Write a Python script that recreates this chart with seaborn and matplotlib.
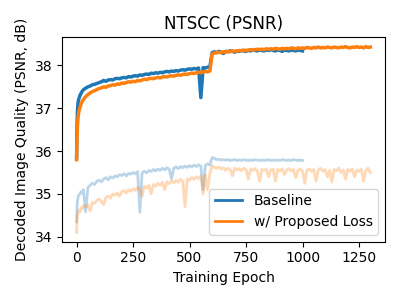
import matplotlib
matplotlib.use("Agg")
import matplotlib.pyplot as plt
import seaborn as sns

early_epochs = [0, 2, 4, 6, 8, 10, 15, 20, 25, 30, 40]
baseline_epochs = early_epochs + list(range(50, 1001, 10))
proposed_epochs = early_epochs + list(range(50, 1301, 10))

baseline_train = [
    35.85, 36.6, 36.95, 37.1, 37.18, 37.22, 37.3, 37.35, 37.4, 37.43, 37.47,
    37.5, 37.52, 37.55, 37.56, 37.58, 37.6, 37.62, 37.65, 37.63, 37.66,
    37.67, 37.66, 37.69, 37.7, 37.69, 37.71, 37.72, 37.71, 37.74, 37.73,
    37.75, 37.76, 37.75, 37.78, 37.77, 37.79, 37.8, 37.79, 37.82, 37.81,
    37.83, 37.82, 37.84, 37.83, 37.85, 37.86, 37.85, 37.87, 37.86, 37.88,
    37.87, 37.89, 37.9, 37.89, 37.91, 37.92, 37.91, 37.93, 37.92, 37.94,
    37.25, 37.95, 37.94, 37.96, 37.97,
    38.3, 38.32, 38.3, 38.33, 38.31, 38.28, 38.33, 38.32, 38.34, 38.33,
    38.31, 38.34, 38.33, 38.35, 38.34, 38.33, 38.35, 38.34, 38.36, 38.35,
    38.34, 38.36, 38.35, 38.34, 38.36, 38.35, 38.37, 38.35, 38.34, 38.36,
    38.35, 38.33, 38.36, 38.35, 38.34, 38.36, 38.35, 38.34, 38.36, 38.35,
    38.34,
]

proposed_train = [
    35.8, 36.3, 36.6, 36.75, 36.85, 36.92, 37.02, 37.1, 37.16, 37.2, 37.27,
    37.32, 37.36, 37.39, 37.41, 37.44, 37.46, 37.48, 37.5, 37.49, 37.52,
    37.53, 37.55, 37.54, 37.57, 37.56, 37.59, 37.58, 37.6, 37.62, 37.61,
    37.63, 37.62, 37.65, 37.64, 37.66, 37.68, 37.67, 37.69, 37.7, 37.69,
    37.71, 37.72, 37.71, 37.73, 37.74, 37.73, 37.75, 37.76, 37.75, 37.77,
    37.78, 37.77, 37.79, 37.8, 37.79, 37.81, 37.82, 37.81, 37.83, 37.84,
    37.83, 37.85, 37.86, 37.85, 37.87,
    38.27, 38.29, 38.3, 38.31, 38.3, 38.32, 38.31, 38.33, 38.32, 38.34,
    38.33, 38.34, 38.35, 38.34, 38.36, 38.35, 38.36, 38.37, 38.36, 38.37,
    38.38, 38.37, 38.38, 38.37, 38.39, 38.38, 38.39, 38.38, 38.4, 38.39,
    38.38, 38.4, 38.39, 38.4, 38.39, 38.41, 38.4, 38.39, 38.41, 38.4,
    38.41, 38.4, 38.42, 38.41, 38.4, 38.42, 38.41, 38.43, 38.41, 38.42,
    38.41, 38.43, 38.42, 38.41, 38.43, 38.42, 38.41, 38.43, 38.42, 38.44,
    38.42, 38.41, 38.43, 38.42, 38.44, 38.42, 38.43, 38.41, 38.44, 38.42,
    38.43,
]

baseline_val = [
    34.35, 34.7, 34.85, 34.9, 34.95, 34.98, 35.0, 35.05, 35.02, 35.1, 34.58,
    35.15, 35.2, 35.25, 35.22, 35.3, 35.32, 35.28, 35.35, 35.38, 35.33,
    35.4, 35.37, 35.42, 35.4, 35.45, 35.43, 35.47, 35.42, 35.48, 35.46,
    35.5, 35.47, 35.52, 34.57, 35.5, 35.53, 35.49, 35.55, 35.52, 35.57,
    35.54, 35.58, 35.55, 35.6, 35.56, 35.61, 35.58, 35.35, 35.6, 35.63,
    35.59, 35.64, 35.61, 35.65, 35.62, 35.66, 35.63, 35.67, 35.64, 35.68,
    35.65, 35.1, 35.67, 35.7, 35.68,
    35.85, 35.83, 35.8, 35.81, 35.79, 35.8, 35.79, 35.8, 35.78, 35.79,
    35.8, 35.78, 35.79, 35.78, 35.8, 35.79, 35.78, 35.79, 35.78, 35.8,
    35.79, 35.78, 35.79, 35.78, 35.79, 35.8, 35.78, 35.79, 35.78, 35.79,
    35.78, 35.8, 35.79, 35.78, 35.79, 35.78, 35.8, 35.79, 35.78, 35.79,
    35.78,
]

proposed_val = [
    34.1, 34.35, 34.5, 34.55, 34.6, 34.62, 34.58, 34.68, 34.65, 34.72, 34.7,
    34.75, 34.6, 34.8, 34.78, 34.85, 34.88, 34.82, 34.75, 34.92, 34.95,
    34.9, 35.0, 34.97, 35.02, 34.95, 35.05, 35.08, 35.02, 35.1, 35.06,
    35.12, 35.08, 35.15, 35.1, 34.95, 35.18, 35.14, 35.2, 35.0, 35.22,
    35.18, 35.25, 35.2, 35.27, 35.1, 35.28, 35.24, 35.3, 35.26, 35.32,
    35.27, 35.34, 35.3, 34.7, 35.35, 35.32, 35.38, 35.34, 35.4, 35.36,
    35.42, 35.0, 35.44, 35.1, 35.48,
    35.66, 35.62, 35.6, 35.63, 35.58, 35.61, 35.55, 35.6, 35.57, 35.42,
    35.6, 35.56, 35.59, 35.54, 35.6, 35.57, 35.35, 35.58, 35.55, 35.59,
    35.53, 35.3, 35.57, 35.55, 35.58, 35.4, 35.56, 35.58, 35.3, 35.57,
    35.54, 35.58, 35.45, 35.56, 35.59, 35.53, 35.57, 35.38, 35.55, 35.58,
    35.54, 35.25, 35.56, 35.58, 35.52, 35.57, 35.3, 35.56, 35.6, 35.53,
    35.57, 35.4, 35.55, 35.28, 35.57, 35.54, 35.6, 35.5, 35.56, 35.35,
    35.57, 35.53, 35.58, 35.4, 35.56, 35.52, 35.58, 35.3, 35.55, 35.6,
    35.5,
]

assert len(baseline_train) == len(baseline_epochs), len(baseline_train)
assert len(baseline_val) == len(baseline_epochs), len(baseline_val)
assert len(proposed_train) == len(proposed_epochs), len(proposed_train)
assert len(proposed_val) == len(proposed_epochs), len(proposed_val)

blue, orange = "tab:blue", "tab:orange"

fig, ax = plt.subplots(figsize=(4, 3), dpi=100)
sns.lineplot(x=baseline_epochs, y=baseline_train, color=blue, lw=2.5,
             label="Baseline", ax=ax)
sns.lineplot(x=proposed_epochs, y=proposed_train, color=orange, lw=2.5,
             label="w/ Proposed Loss", ax=ax)
# validation curves, faded and kept out of the legend
sns.lineplot(x=baseline_epochs, y=baseline_val, color=blue, lw=2,
             alpha=0.3, legend=False, ax=ax)
sns.lineplot(x=proposed_epochs, y=proposed_val, color=orange, lw=2,
             alpha=0.3, legend=False, ax=ax)

ax.set_title("NTSCC (PSNR)")
ax.set_xlabel("Training Epoch")
ax.set_ylabel("Decoded Image Quality (PSNR, dB)")
ax.set_xticks([0, 250, 500, 750, 1000, 1250])
ax.set_yticks([34, 35, 36, 37, 38])
leg = ax.legend(loc="lower right")
for line in leg.get_lines():
    line.set_linewidth(2)
fig.tight_layout()
fig.savefig("out.png", dpi=100)
plt.close(fig)
